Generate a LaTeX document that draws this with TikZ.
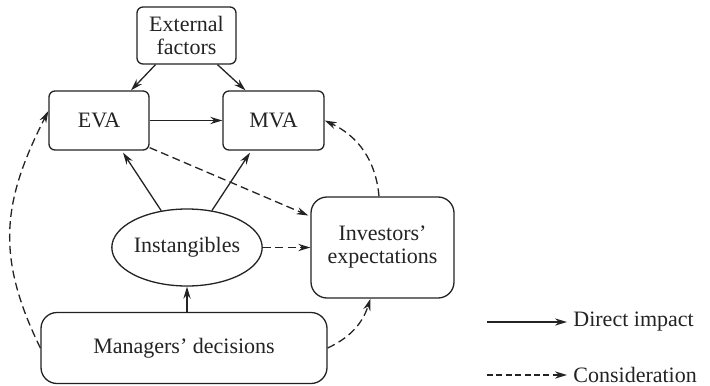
\documentclass[tikz,border=0pt]{standalone}
\usepackage{fontspec}
\setmainfont{Liberation Serif}
\usepackage{xcolor}
\usetikzlibrary{positioning,arrows.meta,calc,shapes.geometric}
\definecolor{inkgray}{RGB}{35,35,35}

\begin{document}
\begin{tikzpicture}[x=0.5pt, y=0.5pt, >={Stealth[length=6pt,width=3.6pt]},
    every node/.style={font=\fontsize{11}{11.5}\selectfont, align=center, text=inkgray},
    box/.style={draw=inkgray, line width=0.65pt, rounded corners=3pt},
    bigbox/.style={draw=inkgray, line width=0.65pt, rounded corners=8pt},
    link/.style={->, draw=inkgray, line width=0.65pt},
    dlink/.style={link, dash pattern=on 4pt off 2.2pt}]
  \useasboundingbox (0,0) rectangle (710,-385);

  \node[box, minimum width=49.5pt, minimum height=28.5pt] (ext)
      at (186.5,-35.5) {External\\factors};

  \node[box, minimum width=50pt, minimum height=29.5pt] (eva)
      at ($(ext)+(-87.5,-85)$) {EVA};

  \node[box, minimum width=50.5pt, minimum height=29.5pt] (mva)
      at ($(eva)+(174.5,0)$) {MVA};

  \node[bigbox, minimum width=71.5pt, minimum height=50.5pt] (inv)
      at (382.5,-247.5) {Investors'\\expectations};

  \node[draw=inkgray, line width=0.65pt, ellipse, inner sep=0pt,
        minimum width=61pt, minimum height=38.5pt] (ell)
      at (187,-247.5) {Instangibles};

  \node[bigbox, minimum width=143pt, minimum height=35.5pt] (mgr)
      at (184,-348) {Managers' decisions};

  % solid links
  \draw[link] ($(ext.south)+(-31,0)$) -- ($(eva.north)+(32,0)$);
  \draw[link] ($(ext.south)+(31,0)$) -- ($(mva.north)+(-28,0)$);
  \draw[link] (eva) -- (mva);
  \draw[link] (ell.125) -- ($(eva.south)+(24,-2)$);
  \draw[link] (ell.56) -- ($(mva.south)+(-23.5,-2)$);
  \draw[link] (ell.south |- mgr.north) -- (ell.south);

  % dashed links
  \draw[dlink] ($(eva.south east)+(0,3)$) -- ($(inv.west)+(-2,32)$);
  \draw[dlink] (ell.east) -- (inv.west);
  \draw[dlink] (mgr.west) to[out=116, in=243, looseness=1.1] ($(eva.west)+(0,9.5)$);
  \draw[dlink] (mgr.east) to[out=25, in=252] ($(inv.south)+(-12,0)$);
  \draw[dlink] ($(inv.north)+(-3.5,0)$) to[out=95, in=-25] (mva.east);

  % legend
  \coordinate (solidA) at (487,-322);
  \coordinate (dashA) at (487,-375);
  \node[anchor=west, inner sep=0pt] (solidtxt) at (573,-322) {Direct impact};
  \node[anchor=west, inner sep=0pt] (dashtxt) at (573,-375) {Consideration};
  \draw[link] (solidA) -- ($(solidtxt.west)+(-6,0)$);
  \draw[link, dash pattern=on 3pt off 1.7pt] (dashA) -- ($(dashtxt.west)+(-6,0)$);
\end{tikzpicture}
\end{document}
